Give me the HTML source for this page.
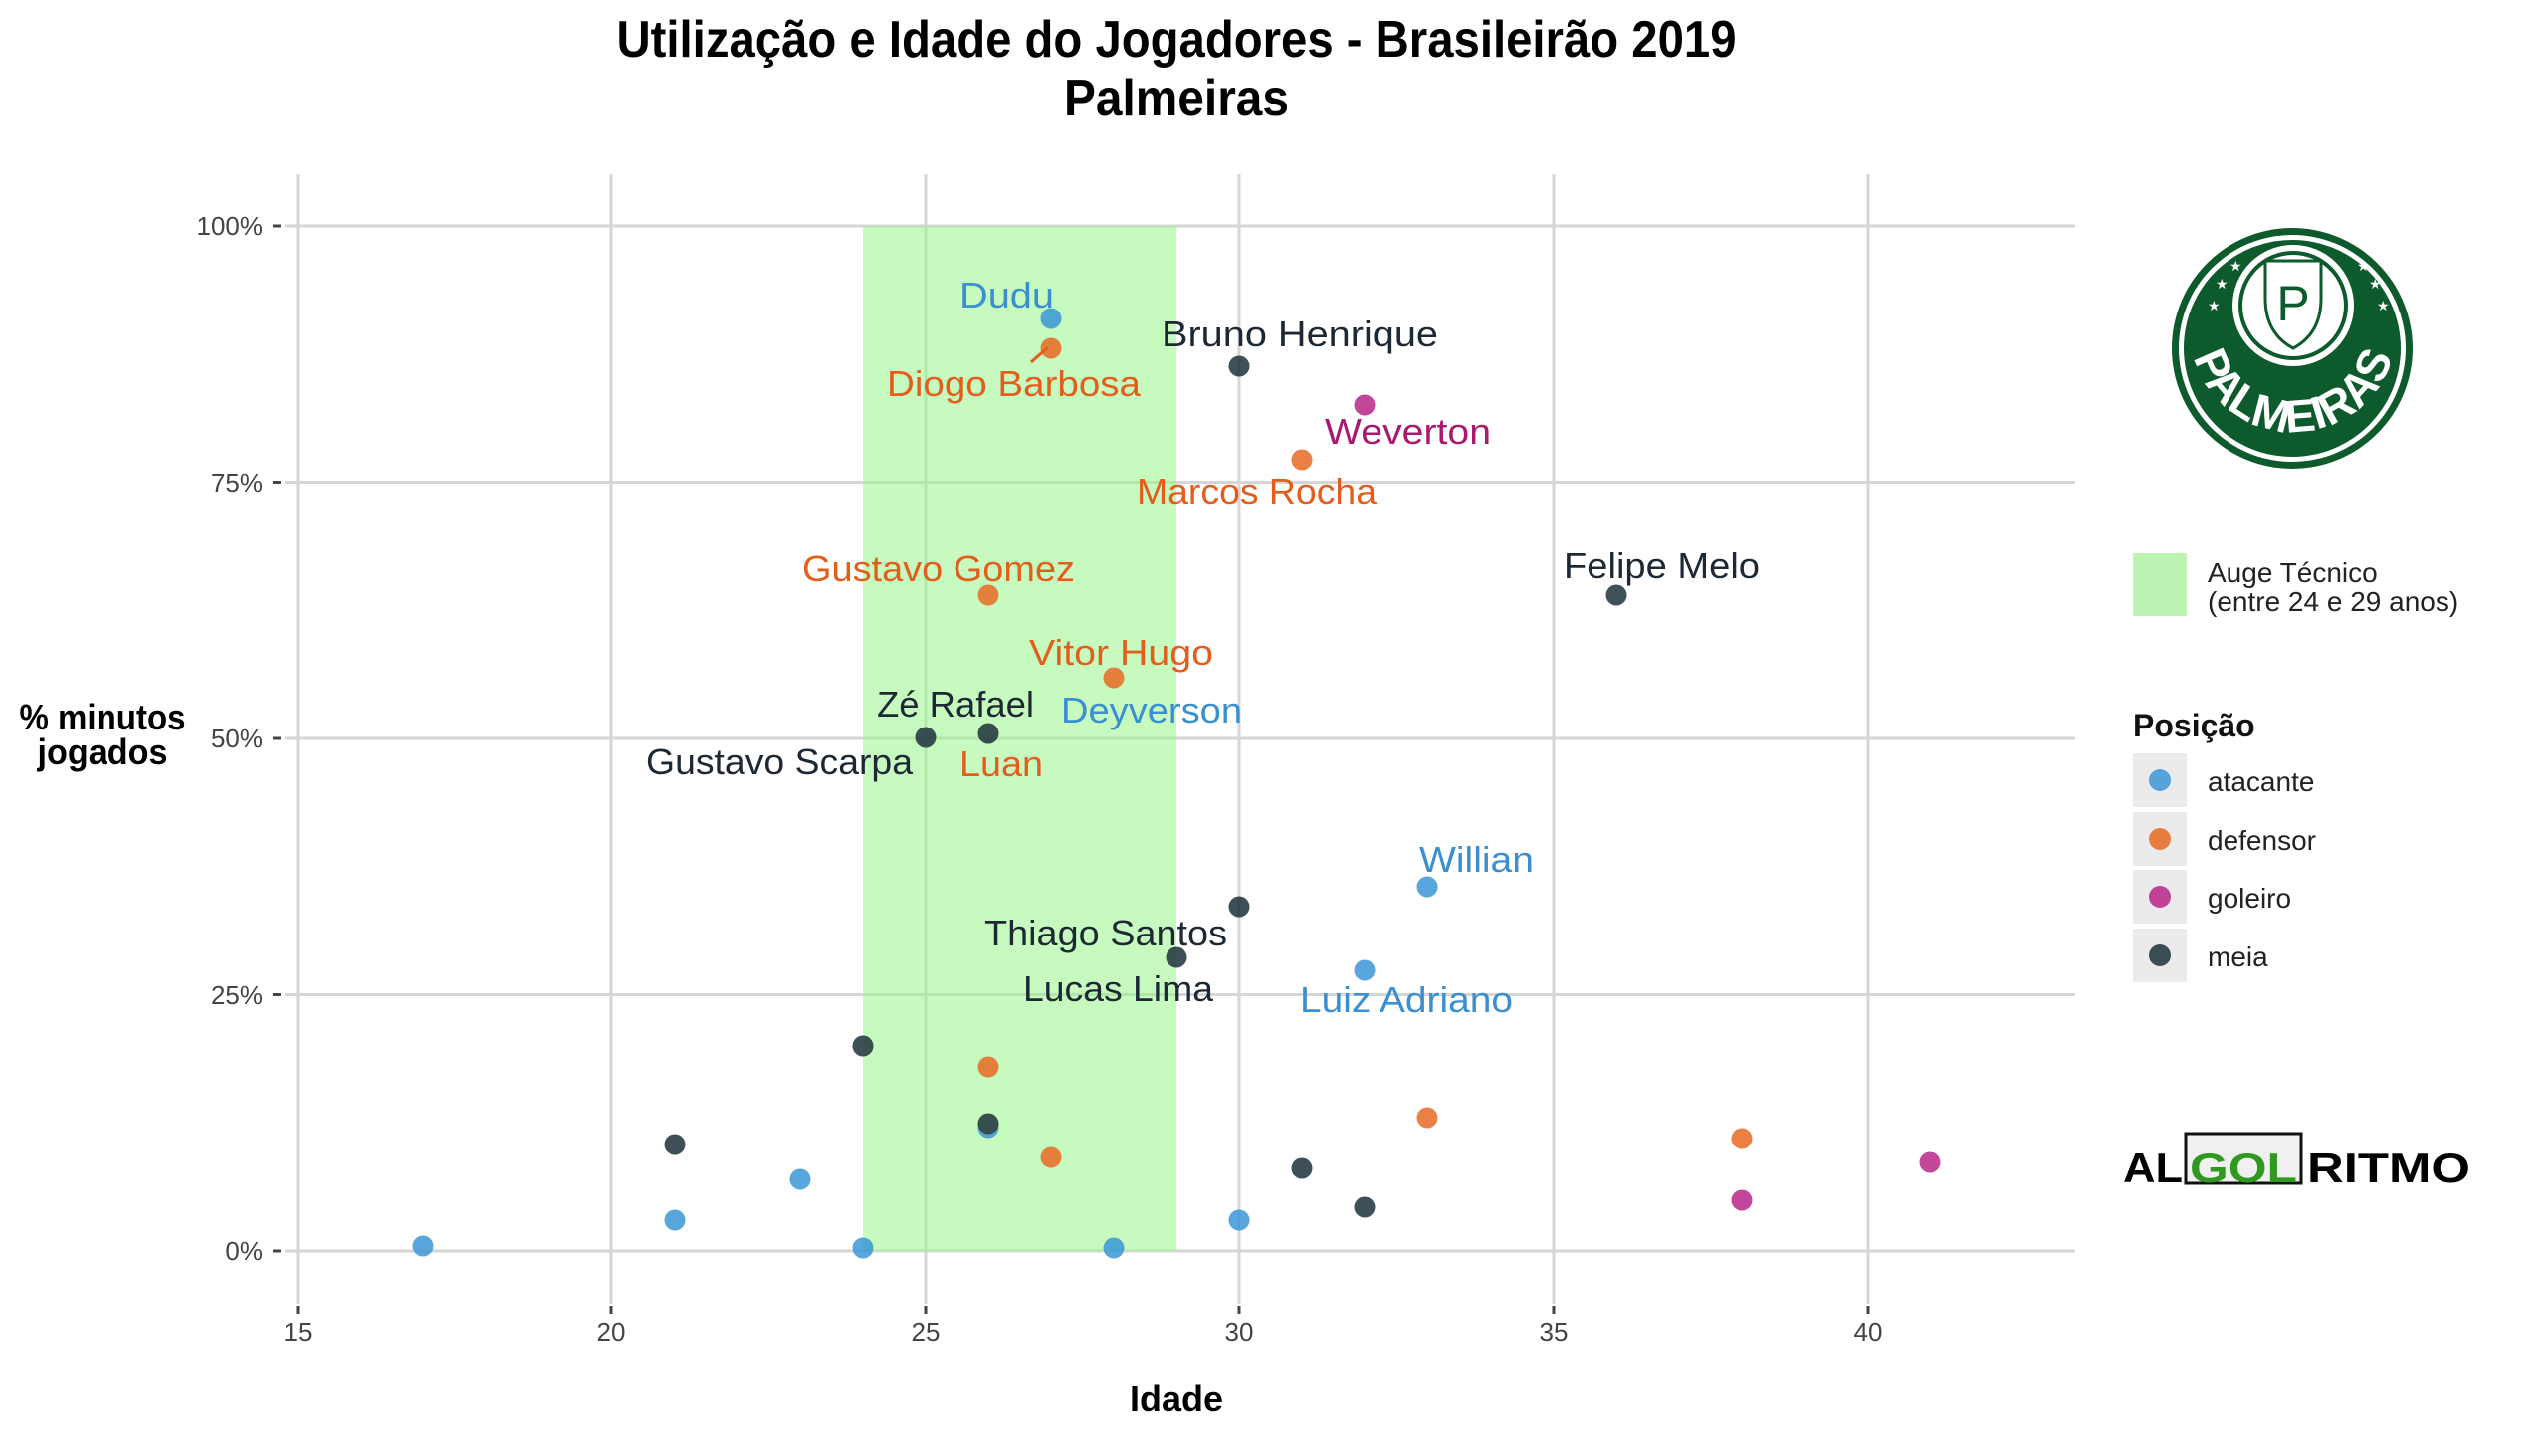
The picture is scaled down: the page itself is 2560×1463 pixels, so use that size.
<!DOCTYPE html>
<html><head><meta charset="utf-8"><style>
html,body{margin:0;padding:0;background:#fff;}
svg{display:block;}
text{font-family:"Liberation Sans",sans-serif;}
</style></head><body>
<svg width="2560" height="1463" viewBox="0 0 2560 1463" xmlns="http://www.w3.org/2000/svg">
<rect width="2560" height="1463" fill="#fff"/>
<!-- title -->
<text x="1182" y="57" text-anchor="middle" font-size="52" font-weight="bold" textLength="1125" lengthAdjust="spacingAndGlyphs">Utilização e Idade do Jogadores - Brasileirão 2019</text>
<text x="1182" y="116" text-anchor="middle" font-size="52" font-weight="bold" textLength="226" lengthAdjust="spacingAndGlyphs">Palmeiras</text>
<!-- grid -->
<g stroke="#d6d6d6" stroke-width="3">
<line x1="286" y1="227" x2="2085" y2="227"/>
<line x1="286" y1="484.5" x2="2085" y2="484.5"/>
<line x1="286" y1="742" x2="2085" y2="742"/>
<line x1="286" y1="999.5" x2="2085" y2="999.5"/>
<line x1="286" y1="1257" x2="2085" y2="1257"/>
<line x1="299" y1="175" x2="299" y2="1310"/>
<line x1="614" y1="175" x2="614" y2="1310"/>
<line x1="930" y1="175" x2="930" y2="1310"/>
<line x1="1245" y1="175" x2="1245" y2="1310"/>
<line x1="1561" y1="175" x2="1561" y2="1310"/>
<line x1="1877" y1="175" x2="1877" y2="1310"/>
</g>
<rect x="867" y="227" width="315" height="1030" fill="rgb(144,245,127)" opacity="0.5"/>
<!-- ticks -->
<g stroke="#444" stroke-width="3">
<line x1="274" y1="227" x2="282" y2="227"/><line x1="274" y1="484.5" x2="282" y2="484.5"/>
<line x1="274" y1="742" x2="282" y2="742"/><line x1="274" y1="999.5" x2="282" y2="999.5"/>
<line x1="274" y1="1257" x2="282" y2="1257"/>
<line x1="299" y1="1312" x2="299" y2="1320"/><line x1="614" y1="1312" x2="614" y2="1320"/>
<line x1="930" y1="1312" x2="930" y2="1320"/><line x1="1245" y1="1312" x2="1245" y2="1320"/>
<line x1="1561" y1="1312" x2="1561" y2="1320"/><line x1="1877" y1="1312" x2="1877" y2="1320"/>
</g>
<g font-size="26" fill="#444" text-anchor="end">
<text x="264" y="236">100%</text><text x="264" y="494">75%</text><text x="264" y="751">50%</text>
<text x="264" y="1009">25%</text><text x="264" y="1266">0%</text>
</g>
<g font-size="26" fill="#444" text-anchor="middle">
<text x="299" y="1347">15</text><text x="614" y="1347">20</text><text x="930" y="1347">25</text>
<text x="1245" y="1347">30</text><text x="1561" y="1347">35</text><text x="1877" y="1347">40</text>
</g>
<text x="1182" y="1418" text-anchor="middle" font-size="36" font-weight="bold">Idade</text>
<text x="103" y="733" text-anchor="middle" font-size="36" font-weight="bold" textLength="167" lengthAdjust="spacingAndGlyphs">% minutos</text>
<text x="103" y="768" text-anchor="middle" font-size="36" font-weight="bold" textLength="131" lengthAdjust="spacingAndGlyphs">jogados</text>
<!-- points: X=299+63.15*(a-15), Y=1257-10.3*p -->
<g opacity="0.85">
<g fill="#3b97d6">
<circle cx="425" cy="1252" r="10.5"/><circle cx="678" cy="1226" r="10.5"/><circle cx="804" cy="1185" r="10.5"/>
<circle cx="867" cy="1254" r="10.5"/><circle cx="993" cy="1133" r="10.5"/><circle cx="1056" cy="320" r="10.5"/>
<circle cx="1119" cy="1254" r="10.5"/><circle cx="1245" cy="1226" r="10.5"/><circle cx="1371" cy="975" r="10.5"/>
<circle cx="1434" cy="891" r="10.5"/>
</g>
<g fill="#e86a25">
<circle cx="993" cy="1072" r="10.5"/><circle cx="993" cy="598" r="10.5"/><circle cx="993" cy="737" r="10.5"/>
<circle cx="1056" cy="350" r="10.5"/><circle cx="1056" cy="1163" r="10.5"/><circle cx="1119" cy="681" r="10.5"/>
<circle cx="1308" cy="462" r="10.5"/><circle cx="1434" cy="1123" r="10.5"/><circle cx="1750" cy="1144" r="10.5"/>
</g>
<g fill="#b8288a">
<circle cx="1371" cy="407" r="10.5"/><circle cx="1750" cy="1206" r="10.5"/><circle cx="1939" cy="1168" r="10.5"/>
</g>
<g fill="#1e313c">
<circle cx="678" cy="1150" r="10.5"/><circle cx="867" cy="1051" r="10.5"/><circle cx="930" cy="741" r="10.5"/>
<circle cx="993" cy="737" r="10.5"/><circle cx="993" cy="1129" r="10.5"/><circle cx="1182" cy="962" r="10.5"/>
<circle cx="1245" cy="911" r="10.5"/><circle cx="1245" cy="368" r="10.5"/><circle cx="1308" cy="1174" r="10.5"/>
<circle cx="1371" cy="1213" r="10.5"/><circle cx="1624" cy="598" r="10.5"/>
</g>
</g>
<line x1="1036" y1="364" x2="1053" y2="349" stroke="#e35d1c" stroke-width="3"/>
<!-- labels -->
<g font-size="36">
<text x="964" y="309" fill="#3a8fd0" textLength="95" lengthAdjust="spacingAndGlyphs">Dudu</text>
<text x="891" y="398" fill="#e35d1c" textLength="255" lengthAdjust="spacingAndGlyphs">Diogo Barbosa</text>
<text x="1167" y="348" fill="#1c2833" textLength="278" lengthAdjust="spacingAndGlyphs">Bruno Henrique</text>
<text x="1331" y="446" fill="#a8196f" textLength="167" lengthAdjust="spacingAndGlyphs">Weverton</text>
<text x="1142" y="506" fill="#e35d1c" textLength="241" lengthAdjust="spacingAndGlyphs">Marcos Rocha</text>
<text x="806" y="584" fill="#e35d1c" textLength="274" lengthAdjust="spacingAndGlyphs">Gustavo Gomez</text>
<text x="1034" y="668" fill="#e35d1c" textLength="185" lengthAdjust="spacingAndGlyphs">Vitor Hugo</text>
<text x="881" y="720" fill="#1c2833" textLength="158" lengthAdjust="spacingAndGlyphs">Zé Rafael</text>
<text x="1066" y="726" fill="#3a8fd0" textLength="182" lengthAdjust="spacingAndGlyphs">Deyverson</text>
<text x="649" y="778" fill="#1c2833" textLength="268" lengthAdjust="spacingAndGlyphs">Gustavo Scarpa</text>
<text x="964" y="780" fill="#e35d1c" textLength="84" lengthAdjust="spacingAndGlyphs">Luan</text>
<text x="1571" y="581" fill="#1c2833" textLength="197" lengthAdjust="spacingAndGlyphs">Felipe Melo</text>
<text x="1426" y="876" fill="#3a8fd0" textLength="115" lengthAdjust="spacingAndGlyphs">Willian</text>
<text x="989" y="950" fill="#1c2833" textLength="244" lengthAdjust="spacingAndGlyphs">Thiago Santos</text>
<text x="1028" y="1006" fill="#1c2833" textLength="191" lengthAdjust="spacingAndGlyphs">Lucas Lima</text>
<text x="1306" y="1017" fill="#3a8fd0" textLength="214" lengthAdjust="spacingAndGlyphs">Luiz Adriano</text>
</g>
<!-- logo -->
<defs><path id="arc" d="M 2200 330 A 104 104 0 0 0 2408 330"/></defs>
<circle cx="2303" cy="350" r="121" fill="#0d5a2c"/>
<circle cx="2303" cy="350" r="114" fill="#fff"/>
<circle cx="2303" cy="350" r="109" fill="#0d5a2c"/>
<circle cx="2304" cy="307" r="61" fill="#fff"/>
<circle cx="2304" cy="307" r="55" fill="#0d5a2c"/>
<circle cx="2304" cy="307" r="51" fill="#fff"/>
<path d="M2276 262 L2332 262 L2332 300 Q2332 335 2304 350 Q2276 335 2276 300 Z" fill="none" stroke="#0d5a2c" stroke-width="3"/>
<text x="2304" y="322" text-anchor="middle" font-size="50" font-family="Liberation Serif" fill="#0d5a2c">P</text>
<g fill="#fff" font-size="14"><text x="2226" y="290">★</text><text x="2218" y="312">★</text><text x="2240" y="272">★</text><text x="2368" y="272">★</text><text x="2380" y="290">★</text><text x="2388" y="312">★</text></g>
<text font-size="46" font-weight="bold" fill="#fff" text-anchor="middle"><textPath href="#arc" startOffset="50%">PALMEIRAS</textPath></text>
<!-- legend -->
<rect x="2143" y="556" width="54" height="63" fill="#bdf4b4"/>
<text x="2218" y="585" font-size="28" fill="#222">Auge Técnico</text>
<text x="2218" y="614" font-size="28" fill="#222">(entre 24 e 29 anos)</text>
<text x="2143" y="740" font-size="32" font-weight="bold" fill="#111">Posição</text>
<g fill="#ebebeb">
<rect x="2143" y="757" width="54" height="54"/><rect x="2143" y="816" width="54" height="54"/>
<rect x="2143" y="874" width="54" height="54"/><rect x="2143" y="933" width="54" height="54"/>
</g>
<g opacity="0.85">
<circle cx="2170" cy="784" r="11" fill="#3b97d6"/><circle cx="2170" cy="843" r="11" fill="#e86a25"/>
<circle cx="2170" cy="901" r="11" fill="#b8288a"/><circle cx="2170" cy="960" r="11" fill="#1e313c"/>
</g>
<g font-size="28" fill="#222">
<text x="2218" y="795">atacante</text><text x="2218" y="854">defensor</text>
<text x="2218" y="912">goleiro</text><text x="2218" y="971">meia</text>
</g>
<!-- algolritmo -->
<rect x="2196" y="1139" width="116" height="50" fill="#f0f0f0" stroke="#111" stroke-width="3"/>
<g font-size="42" font-weight="bold">
<text x="2133" y="1188" textLength="60" lengthAdjust="spacingAndGlyphs">AL</text>
<text x="2200" y="1188" fill="#2f9a1f" textLength="108" lengthAdjust="spacingAndGlyphs">GOL</text>
<text x="2318" y="1188" textLength="164" lengthAdjust="spacingAndGlyphs">RITMO</text>
</g>
</svg>
</body></html>
